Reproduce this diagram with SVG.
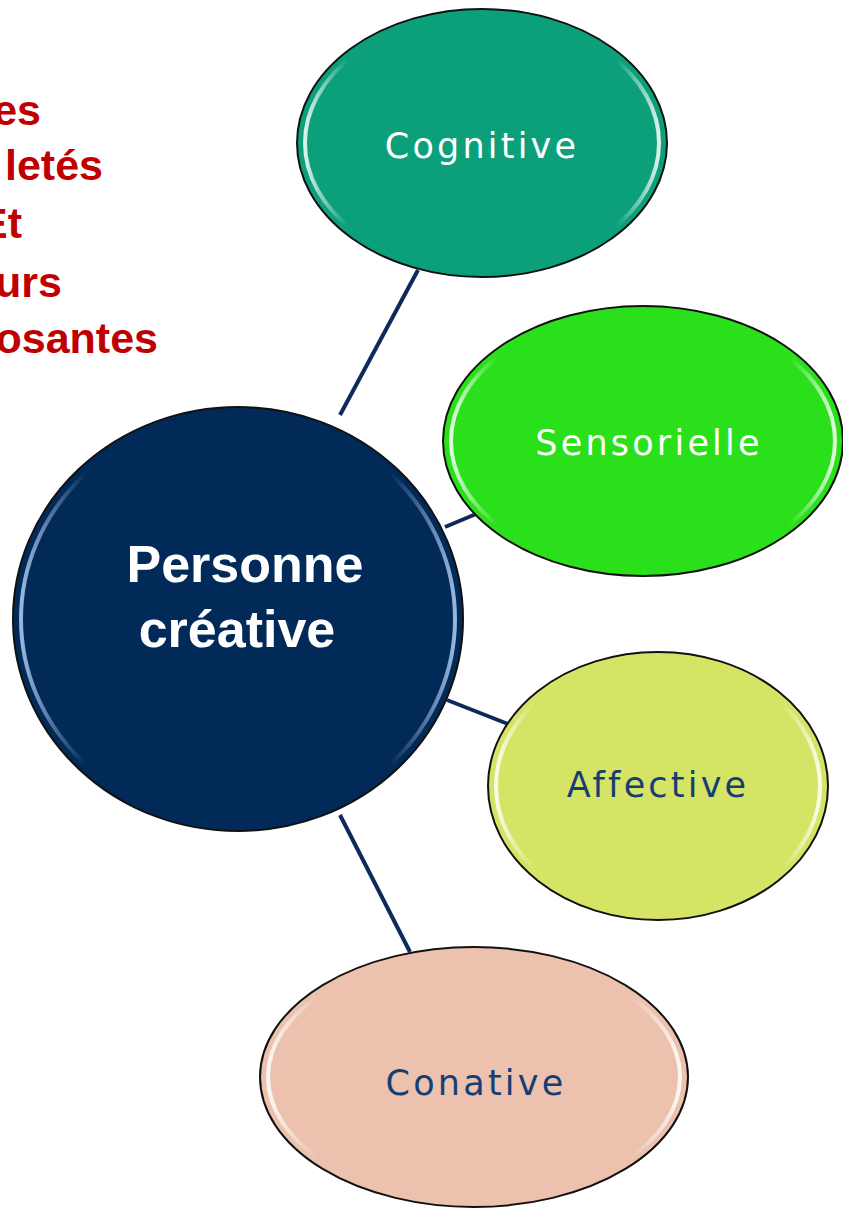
<svg xmlns="http://www.w3.org/2000/svg" width="843" height="1212" viewBox="0 0 843 1212">
<defs>
<linearGradient id="gloss" x1="0" y1="0" x2="1" y2="0">
<stop offset="0" stop-color="#ffffff" stop-opacity="0.85"/>
<stop offset="0.12" stop-color="#ffffff" stop-opacity="0"/>
<stop offset="0.88" stop-color="#ffffff" stop-opacity="0"/>
<stop offset="1" stop-color="#ffffff" stop-opacity="0.85"/>
</linearGradient>
<linearGradient id="glossBlue" x1="0" y1="0" x2="1" y2="0">
<stop offset="0" stop-color="#a8c6ec" stop-opacity="0.9"/>
<stop offset="0.15" stop-color="#a8c6ec" stop-opacity="0"/>
<stop offset="0.85" stop-color="#a8c6ec" stop-opacity="0"/>
<stop offset="1" stop-color="#a8c6ec" stop-opacity="0.9"/>
</linearGradient>
</defs>
<style>
.title{font-family:"Liberation Sans",Arial,sans-serif;font-weight:bold;font-size:43px;fill:#c00000}
.node{stroke:#111;stroke-width:2}
.hl{fill:none;stroke:url(#gloss);stroke-width:4}
.lbl{font-family:"DejaVu Sans","Liberation Sans",sans-serif;font-size:35px;text-anchor:middle;letter-spacing:3.2px}
.main{font-family:"Liberation Sans",Arial,sans-serif;font-weight:bold;font-size:52px;fill:#fff;text-anchor:middle}
.conn{stroke:#0d2a5a;stroke-width:4;fill:none}
</style>
<rect width="843" height="1212" fill="#ffffff"/>
<g id="title">
<text class="title" x="41" y="125" text-anchor="end">es</text>
<text class="title" x="103" y="180" text-anchor="end">letés</text>
<text class="title" x="22" y="238" text-anchor="end">Et</text>
<text class="title" x="62" y="297" text-anchor="end">urs</text>
<text class="title" x="158" y="353" text-anchor="end">osantes</text>
</g>
<g id="connectors">
<line class="conn" x1="340" y1="415" x2="418" y2="270"/>
<line class="conn" x1="445" y1="527" x2="476" y2="514"/>
<line class="conn" x1="447" y1="700" x2="508" y2="724"/>
<line class="conn" x1="340" y1="815" x2="410" y2="952"/>
</g>
<g id="cognitive">
<ellipse class="node" cx="482" cy="143" rx="185" ry="134" fill="#0ca07a"/>
<ellipse class="hl" cx="482" cy="143" rx="177" ry="127"/>
<text class="lbl" x="482" y="158" fill="#ffffff">Cognitive</text>
</g>
<g id="sensorielle">
<ellipse class="node" cx="643" cy="441" rx="200" ry="135" fill="#2ae01a"/>
<ellipse class="hl" cx="643" cy="441" rx="192" ry="128"/>
<text class="lbl" x="649" y="455" fill="#ffffff">Sensorielle</text>
</g>
<g id="affective">
<ellipse class="node" cx="658" cy="786" rx="170" ry="134" fill="#d6e466"/>
<ellipse class="hl" cx="658" cy="786" rx="162" ry="127"/>
<text class="lbl" x="658" y="797" fill="#153e75">Affective</text>
</g>
<g id="conative">
<ellipse class="node" cx="474" cy="1077" rx="214" ry="130" fill="#ecc1ae"/>
<ellipse class="hl" cx="474" cy="1077" rx="206" ry="123"/>
<text class="lbl" x="476" y="1095" fill="#153e75">Conative</text>
</g>
<g id="personne">
<ellipse class="node" cx="238" cy="619" rx="225" ry="212" fill="#022a58"/>
<ellipse cx="238" cy="619" rx="217" ry="204" fill="none" stroke="url(#glossBlue)" stroke-width="4"/>
<text class="main" x="245" y="582">Personne</text>
<text class="main" x="237" y="647">créative</text>
</g>
</svg>
